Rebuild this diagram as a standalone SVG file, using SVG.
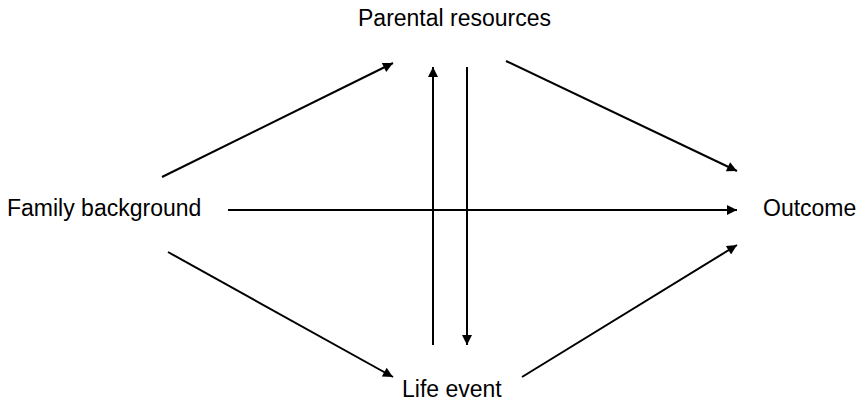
<svg xmlns="http://www.w3.org/2000/svg" width="860" height="402" viewBox="0 0 860 402">
<defs>
<style>
.lbl{font-family:"Liberation Sans",Arial,sans-serif;font-size:23px;fill:#000}
.edge{stroke:#000;stroke-width:2;fill:none;marker-end:url(#ah)}
</style>
<marker id="ah" viewBox="0 0 10 10" refX="10" refY="5" markerWidth="6" markerHeight="5" markerUnits="strokeWidth" orient="auto">
<path d="M0,0 L10,5 L0,10 z" fill="#000"/>
</marker>
</defs>
<rect width="860" height="402" fill="#fff"/>
<g id="connectors">
<line class="edge" x1="162" y1="177" x2="393" y2="63"/>
<line class="edge" x1="506" y1="61" x2="737" y2="171"/>
<line class="edge" x1="168" y1="252" x2="393" y2="377"/>
<line class="edge" x1="522" y1="377" x2="737" y2="245"/>
<line class="edge" x1="228" y1="210" x2="737" y2="210"/>
<line class="edge" x1="433" y1="345" x2="433" y2="67"/>
<line class="edge" x1="467" y1="67" x2="467" y2="345"/>
</g>
<g id="node-parental"><text class="lbl" x="358" y="26">Parental resources</text></g>
<g id="node-family"><text class="lbl" x="7" y="216">Family background</text></g>
<g id="node-outcome"><text class="lbl" x="763" y="216">Outcome</text></g>
<g id="node-life"><text class="lbl" x="402" y="397">Life event</text></g>
</svg>
